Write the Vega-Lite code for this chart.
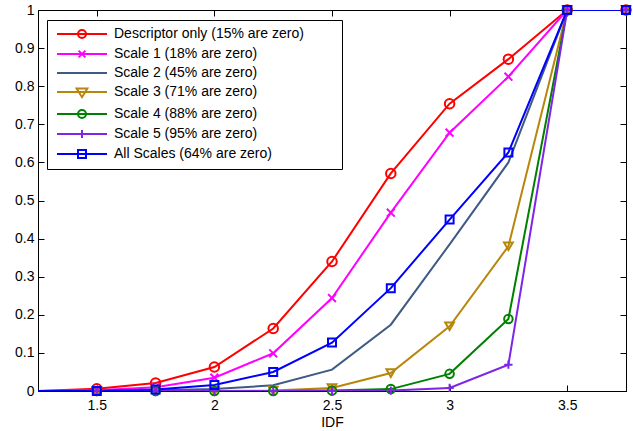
{
  "$schema": "https://vega.github.io/schema/vega-lite/v6.json",
  "autosize": {"type": "none"},
  "padding": {"left": 38, "top": 10, "right": 7, "bottom": 40},
  "width": 588,
  "height": 381,
  "config": {
    "view": {"stroke": "#000", "strokeWidth": 1},
    "font": "Liberation Sans",
    "axis": {
      "domainColor": "#000", "tickColor": "#000", "labelColor": "#000", "titleColor": "#000",
      "labelFont": "Liberation Sans", "labelFontSize": 14, "titleFont": "Liberation Sans",
      "titleFontSize": 14, "titleFontWeight": "normal", "grid": false, "tickSize": -6, "domainWidth": 1, "tickWidth": 1
    }
  },
  "data": {"values": [
    {"s": "Descriptor only (15% are zero)", "x": 1.25, "y": 0},
    {"s": "Descriptor only (15% are zero)", "x": 1.5, "y": 0.006},
    {"s": "Descriptor only (15% are zero)", "x": 1.75, "y": 0.021},
    {"s": "Descriptor only (15% are zero)", "x": 2, "y": 0.063},
    {"s": "Descriptor only (15% are zero)", "x": 2.25, "y": 0.164},
    {"s": "Descriptor only (15% are zero)", "x": 2.5, "y": 0.34},
    {"s": "Descriptor only (15% are zero)", "x": 2.75, "y": 0.571},
    {"s": "Descriptor only (15% are zero)", "x": 3, "y": 0.754},
    {"s": "Descriptor only (15% are zero)", "x": 3.25, "y": 0.871},
    {"s": "Descriptor only (15% are zero)", "x": 3.5, "y": 1},
    {"s": "Descriptor only (15% are zero)", "x": 3.75, "y": 1},
    {"s": "Scale 1 (18% are zero)", "x": 1.25, "y": 0},
    {"s": "Scale 1 (18% are zero)", "x": 1.5, "y": 0.002},
    {"s": "Scale 1 (18% are zero)", "x": 1.75, "y": 0.01},
    {"s": "Scale 1 (18% are zero)", "x": 2, "y": 0.035},
    {"s": "Scale 1 (18% are zero)", "x": 2.25, "y": 0.099},
    {"s": "Scale 1 (18% are zero)", "x": 2.5, "y": 0.244},
    {"s": "Scale 1 (18% are zero)", "x": 2.75, "y": 0.468},
    {"s": "Scale 1 (18% are zero)", "x": 3, "y": 0.678},
    {"s": "Scale 1 (18% are zero)", "x": 3.25, "y": 0.825},
    {"s": "Scale 1 (18% are zero)", "x": 3.5, "y": 1},
    {"s": "Scale 1 (18% are zero)", "x": 3.75, "y": 1},
    {"s": "Scale 2 (45% are zero)", "x": 1.25, "y": 0},
    {"s": "Scale 2 (45% are zero)", "x": 1.5, "y": 0},
    {"s": "Scale 2 (45% are zero)", "x": 1.75, "y": 0.002},
    {"s": "Scale 2 (45% are zero)", "x": 2, "y": 0.005},
    {"s": "Scale 2 (45% are zero)", "x": 2.25, "y": 0.015},
    {"s": "Scale 2 (45% are zero)", "x": 2.5, "y": 0.056},
    {"s": "Scale 2 (45% are zero)", "x": 2.75, "y": 0.174},
    {"s": "Scale 2 (45% are zero)", "x": 3, "y": 0.385},
    {"s": "Scale 2 (45% are zero)", "x": 3.25, "y": 0.6},
    {"s": "Scale 2 (45% are zero)", "x": 3.5, "y": 1},
    {"s": "Scale 2 (45% are zero)", "x": 3.75, "y": 1},
    {"s": "Scale 3 (71% are zero)", "x": 1.25, "y": 0},
    {"s": "Scale 3 (71% are zero)", "x": 1.5, "y": 0},
    {"s": "Scale 3 (71% are zero)", "x": 1.75, "y": 0},
    {"s": "Scale 3 (71% are zero)", "x": 2, "y": 0},
    {"s": "Scale 3 (71% are zero)", "x": 2.25, "y": 0.001},
    {"s": "Scale 3 (71% are zero)", "x": 2.5, "y": 0.008},
    {"s": "Scale 3 (71% are zero)", "x": 2.75, "y": 0.047},
    {"s": "Scale 3 (71% are zero)", "x": 3, "y": 0.17},
    {"s": "Scale 3 (71% are zero)", "x": 3.25, "y": 0.38},
    {"s": "Scale 3 (71% are zero)", "x": 3.5, "y": 1},
    {"s": "Scale 3 (71% are zero)", "x": 3.75, "y": 1},
    {"s": "Scale 4 (88% are zero)", "x": 1.25, "y": 0},
    {"s": "Scale 4 (88% are zero)", "x": 1.5, "y": 0},
    {"s": "Scale 4 (88% are zero)", "x": 1.75, "y": 0},
    {"s": "Scale 4 (88% are zero)", "x": 2, "y": 0},
    {"s": "Scale 4 (88% are zero)", "x": 2.25, "y": 0},
    {"s": "Scale 4 (88% are zero)", "x": 2.5, "y": 0.001},
    {"s": "Scale 4 (88% are zero)", "x": 2.75, "y": 0.005},
    {"s": "Scale 4 (88% are zero)", "x": 3, "y": 0.045},
    {"s": "Scale 4 (88% are zero)", "x": 3.25, "y": 0.189},
    {"s": "Scale 4 (88% are zero)", "x": 3.5, "y": 1},
    {"s": "Scale 4 (88% are zero)", "x": 3.75, "y": 1},
    {"s": "Scale 5 (95% are zero)", "x": 1.25, "y": 0},
    {"s": "Scale 5 (95% are zero)", "x": 1.5, "y": 0},
    {"s": "Scale 5 (95% are zero)", "x": 1.75, "y": 0},
    {"s": "Scale 5 (95% are zero)", "x": 2, "y": 0},
    {"s": "Scale 5 (95% are zero)", "x": 2.25, "y": 0},
    {"s": "Scale 5 (95% are zero)", "x": 2.5, "y": 0},
    {"s": "Scale 5 (95% are zero)", "x": 2.75, "y": 0.001},
    {"s": "Scale 5 (95% are zero)", "x": 3, "y": 0.008},
    {"s": "Scale 5 (95% are zero)", "x": 3.25, "y": 0.069},
    {"s": "Scale 5 (95% are zero)", "x": 3.5, "y": 1},
    {"s": "Scale 5 (95% are zero)", "x": 3.75, "y": 1},
    {"s": "All Scales (64% are zero)", "x": 1.25, "y": 0},
    {"s": "All Scales (64% are zero)", "x": 1.5, "y": 0},
    {"s": "All Scales (64% are zero)", "x": 1.75, "y": 0.004},
    {"s": "All Scales (64% are zero)", "x": 2, "y": 0.016},
    {"s": "All Scales (64% are zero)", "x": 2.25, "y": 0.05},
    {"s": "All Scales (64% are zero)", "x": 2.5, "y": 0.127},
    {"s": "All Scales (64% are zero)", "x": 2.75, "y": 0.27},
    {"s": "All Scales (64% are zero)", "x": 3, "y": 0.45},
    {"s": "All Scales (64% are zero)", "x": 3.25, "y": 0.626},
    {"s": "All Scales (64% are zero)", "x": 3.5, "y": 1},
    {"s": "All Scales (64% are zero)", "x": 3.75, "y": 1}
  ]},
  "layer": [
    {
      "mark": {"type": "line", "strokeWidth": 2, "clip": true},
      "encoding": {
        "x": {"field": "x", "type": "quantitative",
              "scale": {"domain": [1.25, 3.75], "nice": false, "zero": false},
              "axis": {"orient": "bottom", "values": [1.5, 2, 2.5, 3, 3.5], "format": ".1~f", "labelPadding": 13, "title": "IDF", "titlePadding": 3}},
        "y": {"field": "y", "type": "quantitative",
              "scale": {"domain": [0, 1], "nice": false},
              "axis": {"orient": "left", "values": [0, 0.1, 0.2, 0.3, 0.4, 0.5, 0.6, 0.7, 0.8, 0.9, 1], "format": ".1~f", "labelPadding": 10, "title": null}},
        "color": {"field": "s", "type": "nominal",
                  "scale": {"domain": ["Descriptor only (15% are zero)", "Scale 1 (18% are zero)", "Scale 2 (45% are zero)", "Scale 3 (71% are zero)", "Scale 4 (88% are zero)", "Scale 5 (95% are zero)", "All Scales (64% are zero)"],
                            "range": ["#FF0000", "#FF00FF", "#3F5A85", "#B8860B", "#008000", "#7F26E6", "#0000FF"]},
                  "legend": null}
      }
    },
    {
      "transform": [{"filter": "datum.x > 1.4 && datum.s != 'Scale 2 (45% are zero)'"}],
      "mark": {"type": "point", "filled": false, "strokeWidth": 2, "opacity": 1, "clip": false},
      "encoding": {
        "x": {"field": "x", "type": "quantitative",
              "axis": {"orient": "top", "values": [1.5, 2, 2.5, 3, 3.5], "labels": false, "title": null}},
        "y": {"field": "y", "type": "quantitative",
              "axis": {"orient": "right", "values": [0, 0.1, 0.2, 0.3, 0.4, 0.5, 0.6, 0.7, 0.8, 0.9, 1], "labels": false, "title": null}},
        "color": {"field": "s", "type": "nominal",
                  "scale": {"domain": ["Descriptor only (15% are zero)", "Scale 1 (18% are zero)", "Scale 2 (45% are zero)", "Scale 3 (71% are zero)", "Scale 4 (88% are zero)", "Scale 5 (95% are zero)", "All Scales (64% are zero)"],
                            "range": ["#FF0000", "#FF00FF", "#3F5A85", "#B8860B", "#008000", "#7F26E6", "#0000FF"]},
                  "legend": null},
        "shape": {"field": "s", "type": "nominal",
                  "scale": {"domain": ["Descriptor only (15% are zero)", "Scale 1 (18% are zero)", "Scale 2 (45% are zero)", "Scale 3 (71% are zero)", "Scale 4 (88% are zero)", "Scale 5 (95% are zero)", "All Scales (64% are zero)"],
                            "range": ["circle", "M-0.85,-0.85L0.85,0.85M-0.85,0.85L0.85,-0.85", "M0,0", "triangle-down", "circle", "M-1,0L1,0M0,-1L0,1", "square"]},
                  "legend": null},
        "size": {"field": "s", "type": "nominal",
                 "scale": {"domain": ["Descriptor only (15% are zero)", "Scale 1 (18% are zero)", "Scale 2 (45% are zero)", "Scale 3 (71% are zero)", "Scale 4 (88% are zero)", "Scale 5 (95% are zero)", "All Scales (64% are zero)"],
                           "range": [90, 64, 1, 110, 90, 64, 70]},
                 "legend": null}
      }
    },
    {
      "transform": [{"filter": "datum.x > 100"}],
      "mark": {"type": "point", "filled": false, "strokeWidth": 2, "opacity": 1},
      "encoding": {
        "x": {"field": "x", "type": "quantitative", "axis": null},
        "y": {"field": "y", "type": "quantitative", "axis": null},
        "color": {"field": "s", "type": "nominal",
                  "scale": {"domain": ["Descriptor only (15% are zero)", "Scale 1 (18% are zero)", "Scale 2 (45% are zero)", "Scale 3 (71% are zero)", "Scale 4 (88% are zero)", "Scale 5 (95% are zero)", "All Scales (64% are zero)"],
                            "range": ["#FF0000", "#FF00FF", "#3F5A85", "#B8860B", "#008000", "#7F26E6", "#0000FF"]},
                  "legend": {"orient": "none", "legendX": 9, "legendY": 10, "title": null, "padding": 7, "strokeColor": "#000", "fillColor": "#fff",
                             "symbolSize": 64, "symbolStrokeWidth": 2, "symbolOpacity": 1, "labelFont": "Liberation Sans", "labelFontSize": 14, "labelColor": "#000",
                             "labelOffset": 46, "labelLimit": 400, "rowPadding": 4}},
        "shape": {"field": "s", "type": "nominal",
                  "scale": {"domain": ["Descriptor only (15% are zero)", "Scale 1 (18% are zero)", "Scale 2 (45% are zero)", "Scale 3 (71% are zero)", "Scale 4 (88% are zero)", "Scale 5 (95% are zero)", "All Scales (64% are zero)"],
                            "range": [
                              "M-1,0L11.5,0M6.25,0A1,1 0 1,1 4.25,0A1,1 0 1,1 6.25,0M67.5,0",
                              "M-1,0L11.5,0M4.4,-0.85L6.1,0.85M4.4,0.85L6.1,-0.85M67.5,0",
                              "M-1,0L11.5,0M67.5,0",
                              "M-1,0L11.5,0M3.9,-0.9L6.6,-0.9L5.25,1.3ZM67.5,0",
                              "M-1,0L11.5,0M6.25,0A1,1 0 1,1 4.25,0A1,1 0 1,1 6.25,0M67.5,0",
                              "M-1,0L11.5,0M5.25,-1L5.25,1M67.5,0",
                              "M-1,0L11.5,0M4.25,-1L6.25,-1L6.25,1L4.25,1ZM67.5,0"
                            ]},
                  "legend": {"orient": "none", "legendX": 9, "legendY": 10, "title": null, "padding": 7, "strokeColor": "#000", "fillColor": "#fff",
                             "symbolSize": 64, "symbolStrokeWidth": 2, "symbolOpacity": 1, "labelFont": "Liberation Sans", "labelFontSize": 14, "labelColor": "#000",
                             "labelOffset": 46, "labelLimit": 400, "rowPadding": 4}}
      }
    }
  ],
  "resolve": {"scale": {"color": "independent", "shape": "independent", "size": "independent"}}
}
